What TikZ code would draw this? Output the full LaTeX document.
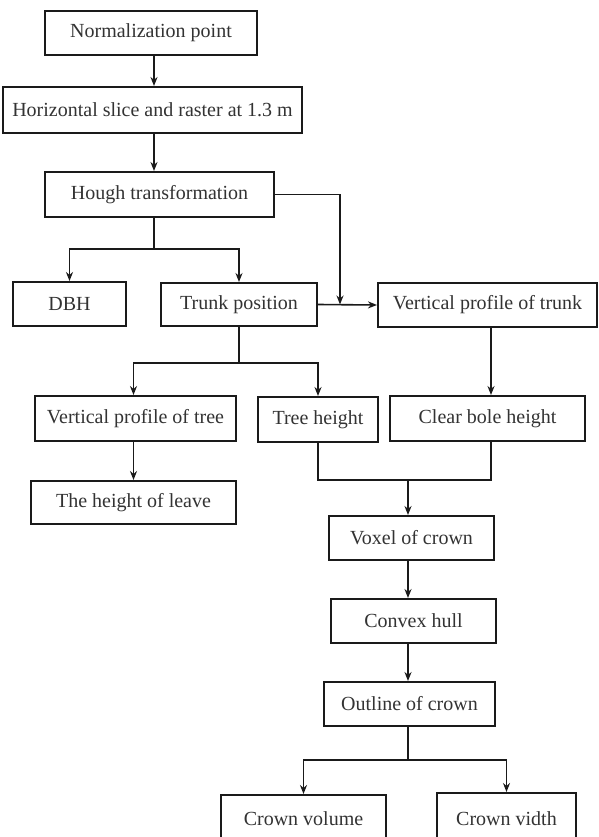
\documentclass[tikz,border=0pt]{standalone}
\usepackage{fontspec}
\setmainfont{Liberation Serif}
\usetikzlibrary{arrows.meta}
\definecolor{ink}{HTML}{1A1A1A}
\definecolor{txt}{HTML}{333333}
\tikzset{
  box/.style={draw=ink, line width=2pt, fill=white, inner sep=0pt, text=txt,
    font=\fontsize{20}{23}\selectfont},
  conn/.style={draw=ink, line width=1.6pt},
  arr/.style={conn, -{Stealth[length=9pt,width=7pt]}}
}
\begin{document}
\begin{tikzpicture}[x=1pt,y=-1pt]
\useasboundingbox (0,0) rectangle (598,837);
\fill[white] (0,0) rectangle (598,837);
\clip (0,0) rectangle (598,837);
% nodes
\node[box, minimum width=212pt, minimum height=44pt] (norm) at (151,33) {Normalization point};
\node[box, minimum width=299pt, minimum height=46pt] (hslice) at (152.5,110) {Horizontal slice and raster at 1.3 m};
\node[box, minimum width=229pt, minimum height=45pt] (hough) at (159.5,194.5) {Hough transformation};
\node[box, minimum width=113pt, minimum height=44pt] (dbh) at (69.5,304) {DBH};
\node[box, minimum width=156pt, minimum height=43pt] (trunk) at (239,304.5) {Trunk position};
\node[box, minimum width=219pt, minimum height=44pt] (vpt) at (487.5,305) {Vertical profile of trunk};
\node[box, minimum width=201pt, minimum height=45pt] (vptree) at (135.5,418.5) {Vertical profile of tree};
\node[box, minimum width=120pt, minimum height=45pt] (th) at (318,419.5) {Tree height};
\node[box, minimum width=195pt, minimum height=45pt] (cbh) at (487.5,418.5) {Clear bole height};
\node[box, minimum width=205pt, minimum height=43pt] (leave) at (133.5,502.5) {The height of leave};
\node[box, minimum width=165pt, minimum height=44pt] (voxel) at (411.5,538) {Voxel of crown};
\node[box, minimum width=165pt, minimum height=44pt] (hull) at (413.5,621) {Convex hull};
\node[box, minimum width=171pt, minimum height=44pt] (outline) at (409.5,704) {Outline of crown};
\node[box, minimum width=165pt, minimum height=56pt, text depth=0pt] (cvol) at (303.5,823) {\raisebox{8pt}{Crown volume}};
\node[box, minimum width=139pt, minimum height=60pt, text depth=0pt] (cvid) at (506.5,823) {\raisebox{8pt}{Crown vidth}};
% helper coordinates
\coordinate (xa) at (154,0);
\coordinate (xb) at (408,0);
\coordinate (xc) at (491,0);
\coordinate (ya) at (0,249);
\coordinate (yb) at (0,363);
\coordinate (yc) at (0,480);
\coordinate (yd) at (0,760);
\coordinate (jx) at (340,0);
% connectors
\draw[arr] (norm.south -| xa) -- (hslice.north -| xa);
\draw[arr] (hslice.south -| xa) -- (hough.north -| xa);
\draw[conn] (hough.south -| xa) -- (ya -| xa);
\draw[arr] (ya -| xa) -| (dbh.north);
\draw[arr] (ya -| xa) -| (trunk.north);
\draw[arr] (trunk.east) -- (vpt.west);
\coordinate (hj) at (hough.east -| jx);
\draw[arr] (hough.east) -- (hj) -- (trunk.east -| jx);
\draw[conn] (trunk.south) -- (yb -| trunk.south);
\draw[arr] (yb -| trunk.south) -| (vptree.north -| leave.north);
\draw[arr] (yb -| trunk.south) -| (th.north);
\draw[arr] (vpt.south -| xc) -- (cbh.north -| xc);
\draw[arr] (vptree.south -| leave.north) -- (leave.north);
\draw[conn] (th.south) |- (yc -| xc) -- (cbh.south -| xc);
\draw[arr] (yc -| xb) -- (voxel.north -| xb);
\draw[arr] (voxel.south -| xb) -- (hull.north -| xb);
\draw[arr] (hull.south -| xb) -- (outline.north -| xb);
\draw[conn] (outline.south -| xb) -- (yd -| xb);
\draw[arr] (yd -| xb) -| (cvol.north);
\draw[arr] (yd -| xb) -| (cvid.north);
\end{tikzpicture}
\end{document}
